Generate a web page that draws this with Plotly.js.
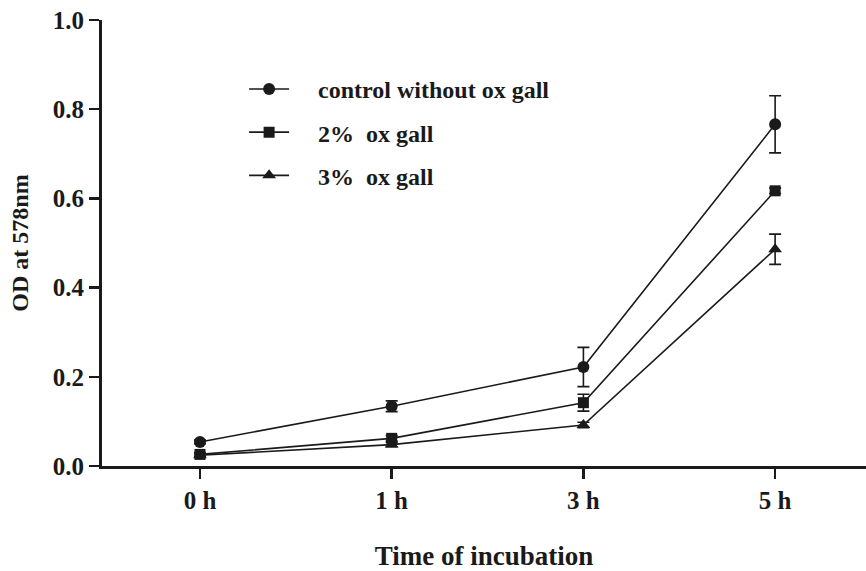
<!DOCTYPE html>
<html>
<head>
<meta charset="utf-8">
<script src="https://cdn.plot.ly/plotly-3.0.1.min.js"></script>
<style>html,body{margin:0;padding:0;background:#fff;}#chart{width:866px;height:571px;}</style>
</head>
<body>
<div id="chart"></div>
<script>
var timeLabels = ["0 h", "1 h", "3 h", "5 h"];
var timeIndex = [0, 1, 2, 3];
var seriesNames = ["control without ox gall", "2%  ox gall", "3%  ox gall"];
var controlOD = [0.054, 0.134, 0.222, 0.766];
var controlErr = [0.004, 0.012, 0.044, 0.064];
var gall2OD = [0.026, 0.062, 0.142, 0.617];
var gall2Err = [0.004, 0.006, 0.019, 0.006];
var gall3OD = [0.024, 0.048, 0.092, 0.486];
var gall3Err = [0.003, 0.005, 0.006, 0.034];
var symbols = ["circle", "square", "triangle-up"];

var ys = [controlOD, gall2OD, gall3OD];
var errs = [controlErr, gall2Err, gall3Err];
var sizes = [12, 11, 12];
var pad = "\u00a0\u00a0\u00a0\u00a0";
var traces = ys.map(function (y, i) {
  return {
    x: timeIndex, y: y, type: "scatter", mode: "lines+markers",
    name: pad + seriesNames[i], legendgroup: "g" + i,
    line: {color: "#1a1a1a", width: 1.6},
    marker: {symbol: symbols[i], size: sizes[i], color: "#1a1a1a"},
    error_y: {type: "data", array: errs[i], visible: true, color: "#1a1a1a", thickness: 1.6, width: 6}
  };
});

var fontFam = "Liberation Serif, Times New Roman, serif";
var layout = {
  width: 866, height: 571,
  margin: {l: 102, r: 0, t: 20, b: 105},
  paper_bgcolor: "#fff", plot_bgcolor: "#fff",
  showlegend: true,
  legend: {x: 0.186, y: 0.895, xanchor: "left", yanchor: "top", bgcolor: "rgba(0,0,0,0)",
    font: {family: fontFam, size: 24, color: "#1a1a1a", weight: "bold"},
    traceorder: "grouped", tracegroupgap: 9, itemwidth: 40},
  xaxis: {
    range: [-0.511, 3.474], tickmode: "array", tickvals: timeIndex, ticktext: timeLabels,
    showgrid: false, zeroline: false, showline: true, linecolor: "#1a1a1a", linewidth: 3,
    ticks: "outside", ticklen: 10, tickwidth: 2.5, tickcolor: "#1a1a1a",
    tickfont: {family: fontFam, size: 25, color: "#1a1a1a", weight: "bold"},
    title: {text: "Time of incubation", font: {family: fontFam, size: 27, color: "#1a1a1a", weight: "bold"}, standoff: 36}
  },
  yaxis: {
    range: [0, 1.0], tickmode: "array", tickvals: [0, 0.2, 0.4, 0.6, 0.8, 1.0],
    ticktext: ["0.0", "0.2", "0.4", "0.6", "0.8", "1.0"],
    showgrid: false, zeroline: false, showline: true, linecolor: "#1a1a1a", linewidth: 3,
    ticks: "outside", ticklen: 10, tickwidth: 2.5, tickcolor: "#1a1a1a",
    tickfont: {family: fontFam, size: 25, color: "#1a1a1a", weight: "bold"},
    title: {text: "OD at 578nm", font: {family: fontFam, size: 24, color: "#1a1a1a", weight: "bold"}, standoff: 18}
  }
};
Plotly.newPlot("chart", traces, layout, {displayModeBar: false, staticPlot: true});
</script>
</body>
</html>
